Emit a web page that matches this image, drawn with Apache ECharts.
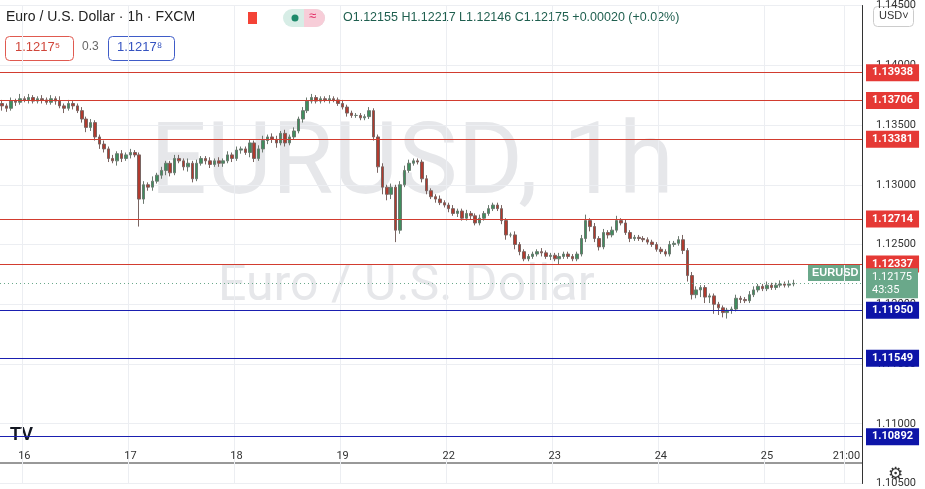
<!DOCTYPE html>
<html>
<head>
<meta charset="utf-8">
<script src="https://cdn.jsdelivr.net/npm/echarts@6/dist/echarts.min.js"></script>
<style>
  html, body { margin: 0; padding: 0; background: #fff; }
  #chart { width: 925px; height: 489px; }
</style>
</head>
<body>
<div id="chart"></div>
<script>
// Hourly closes, EUR/USD
const closes = [
  1.1366, 1.1364, 1.1370, 1.1369, 1.1372, 1.1371, 1.1373, 1.1370, 1.1372, 1.1371,
  1.1369, 1.1372, 1.1370, 1.1366, 1.1364, 1.1368, 1.1366, 1.1362, 1.1355, 1.1348,
  1.1352, 1.1340, 1.1334, 1.1330, 1.1322, 1.1320, 1.1326, 1.1322, 1.1325, 1.1327,
  1.1325, 1.1288, 1.1300, 1.1298, 1.1303, 1.1308, 1.1312, 1.1318, 1.1310, 1.1322,
  1.1320, 1.1315, 1.1318, 1.1305, 1.1318, 1.1322, 1.1320, 1.1317, 1.1320, 1.1318,
  1.1320, 1.1325, 1.1322, 1.1329, 1.1330, 1.1327, 1.1335, 1.1322, 1.1330, 1.1337,
  1.1340, 1.1338, 1.1335, 1.1343, 1.1335, 1.1340, 1.1345, 1.1355, 1.1362, 1.1370,
  1.1373, 1.1370, 1.1372, 1.1371, 1.1372, 1.1371, 1.1368, 1.1365, 1.1360, 1.1358,
  1.1358, 1.1356, 1.1357, 1.1362, 1.1340, 1.1315, 1.1298, 1.1292, 1.1298, 1.1262,
  1.1300, 1.1312, 1.1318, 1.1320, 1.1319, 1.1305, 1.1295, 1.1290, 1.1288, 1.1285,
  1.1283, 1.1280, 1.1276, 1.1278, 1.1272, 1.1276, 1.1274, 1.1268, 1.1272, 1.1276,
  1.1280, 1.1283, 1.1280, 1.1270, 1.1258, 1.1258, 1.1250, 1.1244, 1.1238, 1.1240,
  1.1242, 1.1244, 1.1243, 1.1240, 1.1241, 1.1238, 1.1240, 1.1242, 1.1240, 1.1238,
  1.1242, 1.1255, 1.1270, 1.1265, 1.1255, 1.1248, 1.1260, 1.1258, 1.1262, 1.1270,
  1.1268, 1.1260, 1.1255, 1.1256, 1.1255, 1.1254, 1.1252, 1.1250, 1.1246, 1.1244,
  1.1242, 1.1250, 1.1251, 1.1254, 1.1245, 1.1224, 1.1208, 1.1212, 1.1214, 1.1206,
  1.1207, 1.1200, 1.1197, 1.1193, 1.1195, 1.1196, 1.1205, 1.1204, 1.1203, 1.1208,
  1.1212, 1.1215, 1.1213, 1.1216, 1.1214, 1.1216, 1.1217, 1.1216, 1.1217, 1.12175
];
// wick lengths in pips above / below the body
const wickUp = [
  3, 2, 3, 2, 4, 2, 3, 2, 2, 3,  2, 3, 2, 4, 2, 3, 2, 2, 3, 2,
  3, 2, 2, 3, 2, 3, 2, 3, 2, 3,  2, 2, 3, 2, 4, 2, 3, 2, 2, 3,
  3, 2, 4, 2, 3, 2, 2, 3, 2, 3,  2, 3, 2, 3, 2, 2, 3, 2, 3, 4,
  2, 3, 3, 2, 3, 2, 3, 2, 3, 3,  3, 2, 2, 2, 3, 2, 2, 3, 2, 2,
  2, 2, 2, 3, 2, 2, 3, 2, 3, 2,  3, 4, 3, 2, 2, 2, 3, 2, 2, 3,
  2, 2, 3, 2, 2, 3, 2, 2, 3, 2,  3, 2, 2, 3, 2, 2, 3, 2, 2, 2,
  2, 2, 3, 2, 2, 2, 3, 2, 2, 2,  2, 3, 5, 2, 3, 2, 3, 2, 3, 4,
  2, 3, 2, 2, 2, 2, 2, 2, 2, 2,  2, 3, 2, 3, 4, 2, 3, 3, 2, 2,
  2, 2, 2, 2, 2, 2, 3, 2, 2, 3,  3, 2, 2, 3, 2, 2, 3, 2, 3, 3
];
const wickDown = [
  4, 3, 2, 3, 2, 2, 3, 2, 2, 3,  2, 2, 3, 2, 4, 2, 3, 2, 3, 4,
  3, 3, 4, 3, 3, 2, 4, 3, 2, 3,  2, 23, 4, 3, 3, 2, 3, 4, 3, 2,
  2, 3, 4, 3, 2, 2, 3, 3, 2, 3,  3, 2, 3, 2, 3, 2, 4, 3, 2, 3,
  3, 3, 4, 2, 3, 2, 2, 2, 3, 2,  2, 2, 2, 2, 3, 2, 2, 2, 3, 2,
  2, 2, 2, 2, 3, 5, 6, 5, 4, 10, 3, 2, 2, 2, 2, 3, 3, 2, 3, 2,
  2, 3, 2, 3, 2, 2, 3, 2, 2, 2,  2, 2, 2, 3, 4, 2, 4, 3, 2, 2,
  2, 2, 3, 2, 3, 2, 5, 2, 2, 2,  2, 2, 3, 4, 3, 3, 2, 3, 2, 2,
  2, 2, 3, 2, 2, 2, 2, 2, 2, 2,  2, 2, 2, 2, 3, 5, 4, 3, 6, 5,
  5, 8, 6, 4, 5, 3, 2, 3, 2, 2,  2, 2, 2, 2, 2, 2, 2, 2, 2, 2
];
const firstOpen = 1.1368;
const dayLabels = ["16", "17", "18", "19", "22", "23", "24", "25", "21:00"];
const dayLabelIndex = [5, 29, 53, 77, 101, 125, 149, 173, 191];
const resistance = [1.13938, 1.13706, 1.13381, 1.12714, 1.12337];
const support = [1.11950, 1.11549, 1.10892];
const lastPrice = 1.12175;

const N = 195;
const categories = [];
for (let i = 0; i < N; i++) {
  const k = dayLabelIndex.indexOf(i);
  categories.push(k >= 0 ? dayLabels[k] : "h" + i);
}
const ohlc = closes.map((c, i) => {
  const o = i === 0 ? firstOpen : closes[i - 1];
  const hi = Math.max(o, c) + wickUp[i] * 0.0001;
  const lo = Math.min(o, c) - wickDown[i] * 0.0001;
  return [o, c, lo, hi];
});

const boxLabel = (color) => ({
  show: true, position: "end", distance: 4,
  formatter: (p) => p.value.toFixed(5),
  backgroundColor: color, color: "#fff", fontSize: 11, fontWeight: "bold",
  padding: [3, 6, 3, 6], fontFamily: "Roboto"
});
const lines = [
  ...resistance.map((v) => ({ yAxis: v, lineStyle: { color: "#d23c2f" }, label: boxLabel("#e53935") })),
  ...support.map((v) => ({ yAxis: v, lineStyle: { color: "#1a1fb0" }, label: boxLabel("#0d14a8") })),
  { yAxis: lastPrice, lineStyle: { color: "#6aa88a", type: [1, 3], width: 1 },
    label: { show: true, position: "end", distance: 4, formatter: "1.12175\n43:35",
      backgroundColor: "#6aa88a", color: "#fff", fontSize: 11, lineHeight: 13,
      padding: [2, 6, 2, 6], fontFamily: "Roboto" } }
];

const chart = echarts.init(document.getElementById("chart"));
chart.setOption({
  animation: false,
  textStyle: { fontFamily: "Roboto" },
  grid: { left: 0, right: 63, top: -41, height: 542 },
  xAxis: {
    type: "category", data: categories, boundaryGap: true,
    axisLine: { show: false }, axisTick: { show: false },
    axisLabel: {
      margin: -33, color: "#333", fontSize: 11,
      interval: (i) => dayLabelIndex.includes(i),
      formatter: (v) => (v.startsWith("h") ? "" : v)
    },
    splitLine: { show: true, interval: (i) => dayLabelIndex.includes(i), lineStyle: { color: "#eceef2" } }
  },
  yAxis: {
    type: "value", position: "right", min: 1.105, max: 1.145, interval: 0.005,
    axisLine: { show: true, lineStyle: { color: "#333" } }, axisTick: { show: false },
    axisLabel: { color: "#333", fontSize: 11, margin: 14, formatter: (v) => v.toFixed(5) },
    splitLine: { lineStyle: { color: "#eceef2" } }
  },
  graphic: [
    { type: "line", shape: { x1: 0, y1: 463, x2: 862, y2: 463 }, style: { stroke: "#333", lineWidth: 1 } },
    { type: "text", left: 150, top: 118, silent: true, z: -1,
      style: { text: "EURUSD, 1h", fontSize: 100, fill: "#e6e7ea", fontFamily: "Roboto" } },
    { type: "text", left: 218, top: 262, silent: true, z: -1,
      style: { text: "Euro / U.S. Dollar", fontSize: 50, fill: "#e6e7ea", fontFamily: "Roboto" } },
    { type: "text", left: 6, top: 10, style: { text: "Euro / U.S. Dollar · 1h · FXCM", fontSize: 14, fill: "#222" } },
    { type: "rect", left: 248, top: 12, shape: { width: 9, height: 12 }, style: { fill: "#f44336" } },
    { type: "rect", left: 283, top: 9, shape: { width: 42, height: 18, r: 9 }, style: { fill: "#d7ede6" } },
    { type: "rect", left: 304, top: 9, shape: { width: 21, height: 18, r: [0, 9, 9, 0] }, style: { fill: "#f7cdd8" } },
    { type: "circle", shape: { cx: 295, cy: 18, r: 3.5 }, style: { fill: "#1d8a6b" } },
    { type: "text", left: 309, top: 10, style: { text: "≈", fontSize: 13, fill: "#e0245e" } },
    { type: "text", left: 343, top: 11, style: { text: "O1.12155 H1.12217 L1.12146 C1.12175 +0.00020 (+0.02%)", fontSize: 12.5, fill: "#1f5f4f" } },
    { type: "rect", left: 5, top: 36, shape: { width: 68, height: 24, r: 4 }, style: { fill: "#fff", stroke: "#e05a50" } },
    { type: "text", left: 15, top: 41, style: { text: "1.1217⁵", fontSize: 13, fill: "#d0463a" } },
    { type: "text", left: 82, top: 41, style: { text: "0.3", fontSize: 12, fill: "#666" } },
    { type: "rect", left: 108, top: 36, shape: { width: 66, height: 24, r: 4 }, style: { fill: "#fff", stroke: "#3f5cc8" } },
    { type: "text", left: 117, top: 41, style: { text: "1.1217⁸", fontSize: 13, fill: "#3553c0" } },
    { type: "rect", left: 873, top: 6, shape: { width: 40, height: 20, r: 4 }, style: { fill: "#fff", stroke: "#ccc" } },
    { type: "text", left: 879, top: 10, style: { text: "USD˅", fontSize: 11, fill: "#333" } },
    { type: "rect", left: 808, top: 265, shape: { width: 52, height: 16 }, style: { fill: "#6aa88a" } },
    { type: "text", left: 812, top: 267, style: { text: "EURUSD", fontSize: 11, fill: "#fff", fontWeight: "bold" } },
    { type: "text", left: 10, top: 426, style: { text: "TV", fontSize: 18, fontWeight: "bold", fill: "#131722" } },
    { type: "text", left: 888, top: 466, style: { text: "⚙", fontSize: 17, fill: "#333" } }
  ],
  series: [{
    type: "candlestick", data: ohlc, barWidth: 3,
    itemStyle: { color: "#3f8e5e", color0: "#b23a2e", borderColor: "#6c7a70", borderColor0: "#7a6562", borderWidth: 1 },
    markLine: { symbol: "none", silent: true, precision: 5, lineStyle: { width: 1, type: "solid" }, data: lines }
  }]
});
</script>
</body>
</html>
